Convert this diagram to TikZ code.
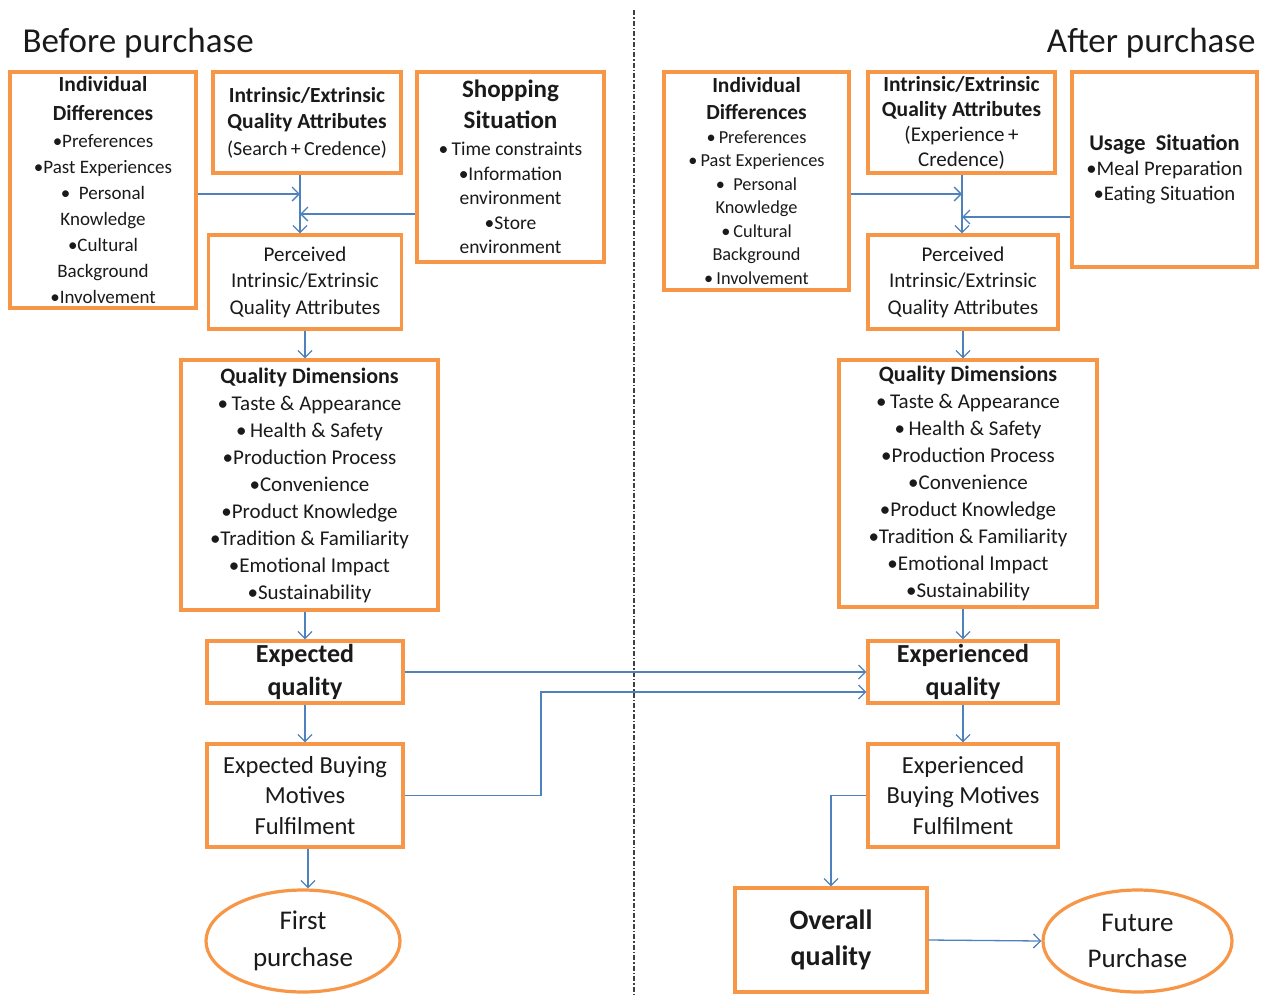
\documentclass[tikz,border=0pt]{standalone}
\usepackage{fontspec}
\setmainfont{Carlito}
\usetikzlibrary{arrows.meta,shapes.geometric}

\definecolor{boxorange}{HTML}{F79646}
\definecolor{flowblue}{HTML}{4F81BD}
\definecolor{inktext}{HTML}{1A1A1A}

\newcommand\fsz[2]{\fontsize{#1}{#2}\selectfont}

\tikzset{
  x=1pt, y=-1pt,
  every node/.style={text=inktext},
  stagebox/.style={draw=boxorange, line width=3.2pt, fill=white, rectangle,
    align=center, inner sep=0pt},
  stageoval/.style={draw=boxorange, line width=3.2pt, fill=white, ellipse,
    align=center, inner sep=0pt},
  flow/.style={draw=flowblue, line width=1.3pt,
    -{Straight Barb[length=7pt,width=14pt,line width=1.3pt]}},
  divider/.style={draw=black!75, line width=1.2pt,
    dash pattern=on 5pt off 2pt on 1.5pt off 2pt},
  heading/.style={font=\fsz{35}{40}}
}

\begin{document}
\begin{tikzpicture}
\useasboundingbox (0,0) rectangle (1264,994);

% phase divider
\coordinate (divtop) at (634,10);
\coordinate (divbot) at (634,994);
\draw[divider] (divtop) -- (divbot);

% phase headings
\node[heading, anchor=base west] (hbefore) at (19,52) {Before purchase};
\node[heading, anchor=base east] (hafter) at (1259,52) {After purchase};

% ---------- before purchase ----------
\node[stagebox, minimum width=186, minimum height=236, font=\fsz{19}{26}]
  (idL) at (103,190)
  {{\fsz{21.5}{26}\bfseries Individual}\\[3pt]
   {\fsz{21.5}{26}\bfseries Differences}\\[1pt]
   •Preferences\\ •Past Experiences\\ •\ \ Personal\\ Knowledge\\
   •Cultural\\ Background\\ •Involvement};

\node[stagebox, minimum width=188, minimum height=101, font=\fsz{20}{26.5}]
  (ieL) at (307,122.5)
  {{\fsz{21.5}{26.5}\bfseries Intrinsic/Extrinsic}\\
   {\fsz{21.5}{26.5}\bfseries Quality Attributes}\\
   (Search\,+\,Credence)};

\node[stagebox, minimum width=187, minimum height=190, font=\fsz{19.5}{24.5}]
  (shopL) at (510.5,167)
  {{\fsz{25}{28}\bfseries Shopping}\\[6.5pt]
   {\fsz{25}{28}\bfseries Situation}\\[2.5pt]
   •\,Time constraints\\ •Information\\ environment\\ •Store\\ environment};

\node[stagebox, minimum width=193, minimum height=94, font=\fsz{21}{26.5}]
  (percL) at (305,282)
  {Perceived\\ Intrinsic/Extrinsic\\ Quality Attributes};

\node[stagebox, minimum width=257, minimum height=250, font=\fsz{21}{27}]
  (qdL) at (309.5,485)
  {{\fsz{22}{27}\bfseries Quality Dimensions}\\ •\,Taste \& Appearance\\
   •\,Health \& Safety\\ •Production Process\\ •Convenience\\
   •Product Knowledge\\ •Tradition \& Familiarity\\ •Emotional Impact\\
   •Sustainability};

\node[stagebox, minimum width=196, minimum height=62, font=\fsz{26}{33}\bfseries]
  (expL) at (305,672) {Expected\\ quality};

\node[stagebox, minimum width=196, minimum height=103, font=\fsz{24.5}{30.5}]
  (ebmL) at (305,795.5) {Expected Buying\\ Motives\\ Fulfilment};

\node[stageoval, minimum width=194, minimum height=102, font=\fsz{27}{37}]
  (firstL) at (303,941) {First\\ purchase};

% ---------- after purchase ----------
\node[stagebox, minimum width=185, minimum height=218, font=\fsz{18.3}{23.5}]
  (idR) at (756.5,181)
  {{\fsz{21.5}{23.5}\bfseries Individual}\\[3.5pt]
   {\fsz{21.5}{23.5}\bfseries Differences}\\
   •\,Preferences\\ •\,Past Experiences\\ •\ \ Personal\\ Knowledge\\
   •\,Cultural\\ Background\\ •\,Involvement};

\node[stagebox, minimum width=187, minimum height=101, font=\fsz{21}{25}]
  (ieR) at (961.5,122.5)
  {{\fsz{21.5}{25}\bfseries Intrinsic/Extrinsic}\\
   {\fsz{21.5}{25}\bfseries Quality Attributes}\\
   (Experience\,+\\ Credence)};

\node[stagebox, minimum width=185, minimum height=195, font=\fsz{20.7}{25}]
  (useR) at (1164.5,169.5)
  {{\fsz{22.4}{25}\bfseries Usage\ \ Situation}\\ •Meal Preparation\\
   •Eating Situation};

\node[stagebox, minimum width=190, minimum height=94, font=\fsz{21}{26.5}]
  (percR) at (963,282)
  {Perceived\\ Intrinsic/Extrinsic\\ Quality Attributes};

\node[stagebox, minimum width=258, minimum height=247, font=\fsz{21}{27}]
  (qdR) at (968,483.5)
  {{\fsz{22}{27}\bfseries Quality Dimensions}\\ •\,Taste \& Appearance\\
   •\,Health \& Safety\\ •Production Process\\ •Convenience\\
   •Product Knowledge\\ •Tradition \& Familiarity\\ •Emotional Impact\\
   •Sustainability};

\node[stagebox, minimum width=190, minimum height=62, font=\fsz{26}{33}\bfseries]
  (expR) at (963,672) {Experienced\\ quality};

\node[stagebox, minimum width=190, minimum height=103, font=\fsz{24.5}{30.5}]
  (ebmR) at (963,795.5) {Experienced\\ Buying Motives\\ Fulfilment};

\node[stagebox, minimum width=192, minimum height=104, font=\fsz{28}{36}\bfseries]
  (overall) at (831,940) {Overall\\ quality};

\node[stageoval, minimum width=189, minimum height=102, font=\fsz{27}{36}]
  (future) at (1137.5,941) {Future\\ Purchase};

% ---------- connectors, before purchase ----------
\coordinate (jA) at (300,194);
\coordinate (jB) at (300,214);
\draw[flow] (jA |- ieL.south) -- (jA |- percL.north);
\draw[flow] (idL.east |- jA) -- (jA);
\draw[flow] (shopL.west |- jB) -- (jB);
\draw[flow] (percL.south) -- (percL.south |- qdL.north);
\draw[flow] (expL.north |- qdL.south) -- (expL.north);
\draw[flow] (expL.south) -- (ebmL.north);
\draw[flow] ([xshift=3pt]ebmL.south) -- ([xshift=3pt]ebmL.south |- firstL.north);

% ---------- connectors across the divider ----------
\draw[flow] (expL.east) -- (expL.east -| expR.west);
\coordinate (bend) at (541,692);
\draw[flow] (ebmL.east) -| (bend) -- (bend -| expR.west);

% ---------- connectors, after purchase ----------
\coordinate (jC) at (962,194);
\coordinate (jD) at (962,217);
\draw[flow] (jC |- ieR.south) -- (jC |- percR.north);
\draw[flow] (idR.east |- jC) -- (jC);
\draw[flow] (useR.west |- jD) -- (jD);
\draw[flow] (percR.south) -- (percR.south |- qdR.north);
\draw[flow] (expR.north |- qdR.south) -- (expR.north);
\draw[flow] (expR.south) -- (ebmR.north);
\draw[flow] (ebmR.west) -| (overall.north);
\draw[flow] (overall.east) -- (future.west);
\end{tikzpicture}
\end{document}
